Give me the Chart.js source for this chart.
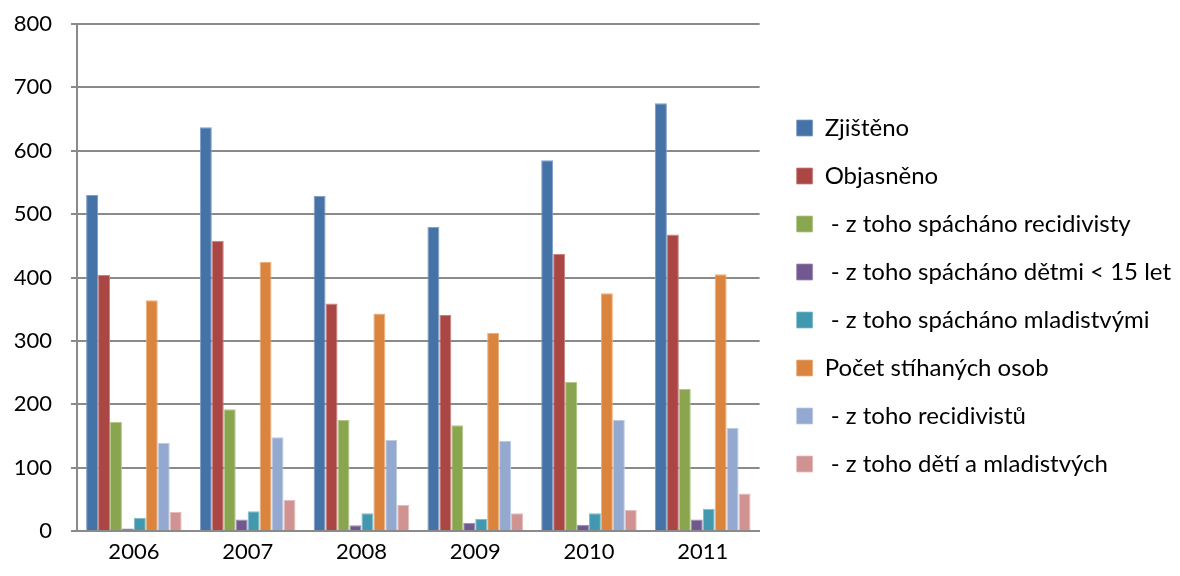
<!DOCTYPE html>
<html>
<head>
<meta charset="utf-8">
<script src="https://cdn.jsdelivr.net/npm/chart.js@4"></script>
<style>
  html, body { margin: 0; padding: 0; background: #fff; }
  #wrap { width: 1180px; height: 576px; }
</style>
</head>
<body>
<div id="wrap"><canvas id="chart"></canvas></div>
<script>
var years = ['2006', '2007', '2008', '2009', '2010', '2011'];

var zjisteno = [530, 637, 529, 480, 585, 675];
var objasneno = [404, 458, 359, 341, 437, 468];
var recidivisty = [172, 192, 175, 167, 235, 224];
var detmi = [4, 18, 9, 13, 10, 18];
var mladistvymi = [21, 31, 28, 19, 28, 35];
var stihanych = [364, 425, 343, 313, 375, 405];
var zTohoRecidivistu = [139, 148, 144, 142, 175, 163];
var detiMladistvych = [30, 49, 41, 28, 33, 59];

var yTicks = [0, 100, 200, 300, 400, 500, 600, 700, 800];

var font = 'Lato';
var gridColor = '#8a8a8a';

function ds(label, data, color, edge) {
    return {
        label: label,
        data: data,
        backgroundColor: color,
        borderColor: edge,
        borderWidth: { top: 1, left: 1, right: 1, bottom: 0 }
    };
}

// nudge the legend a bit to the right, like in the original
var legendShift = {
    id: 'legendShift',
    afterLayout: function (chart) {
        var lg = chart.legend;
        lg.left += 13;
        lg.right += 13;
        lg.top += 2;
        lg.bottom += 2;
    }
};

var ctx = document.getElementById('chart').getContext('2d');
var chart = new Chart(ctx, {
    type: 'bar',
    data: {
        labels: years,
        datasets: [
            ds('Zjištěno', zjisteno, '#4572A7', '#7f9ec6'),
            ds('Objasněno', objasneno, '#AA4643', '#c98280'),
            ds(' - z toho spácháno recidivisty', recidivisty, '#89A54E', '#b2c78a'),
            ds(' - z toho spácháno dětmi < 15 let', detmi, '#71588F', '#9d8bb5'),
            ds(' - z toho spácháno mladistvými', mladistvymi, '#4198AF', '#80bccc'),
            ds('Počet stíhaných osob', stihanych, '#DB843D', '#eab07f'),
            ds(' - z toho recidivistů', zTohoRecidivistu, '#93A9CF', '#bccbe3'),
            ds(' - z toho dětí a mladistvých', detiMladistvych, '#D19392', '#e5bdbc')
        ]
    },
    options: {
        responsive: true,
        maintainAspectRatio: false,
        animation: false,
        datasets: {
            bar: { categoryPercentage: 0.84, barPercentage: 1 }
        },
        layout: { padding: { left: 12, right: 12, top: 24, bottom: 12 } },
        plugins: {
            tooltip: { enabled: false },
            legend: {
                position: 'right',
                maxWidth: 440,
                labels: {
                    font: { family: font, size: 24 },
                    color: '#000',
                    boxWidth: 16,
                    boxHeight: 16,
                    padding: 24
                }
            }
        },
        scales: {
            x: {
                grid: { display: false, drawTicks: false },
                border: { display: true, color: gridColor, width: 2 },
                ticks: { font: { family: font, size: 22 }, color: '#000', padding: 8 },
                afterFit: function (axis) {
                    axis.height = 33;
                    axis.paddingLeft = 0;
                    axis.paddingRight = 0;
                }
            },
            y: {
                min: 0,
                max: 800,
                afterBuildTicks: function (axis) {
                    axis.ticks = yTicks.map(function (v) { return { value: v }; });
                },
                afterFit: function (axis) {
                    axis.width = 65;
                    axis.paddingTop = 0;
                    axis.paddingBottom = 0;
                },
                grid: { color: gridColor, lineWidth: 2, tickLength: 6 },
                border: { display: true, color: gridColor, width: 2 },
                ticks: { font: { family: font, size: 22 }, color: '#000', padding: 19 }
            }
        }
    },
    plugins: [legendShift]
});
</script>
</body>
</html>
